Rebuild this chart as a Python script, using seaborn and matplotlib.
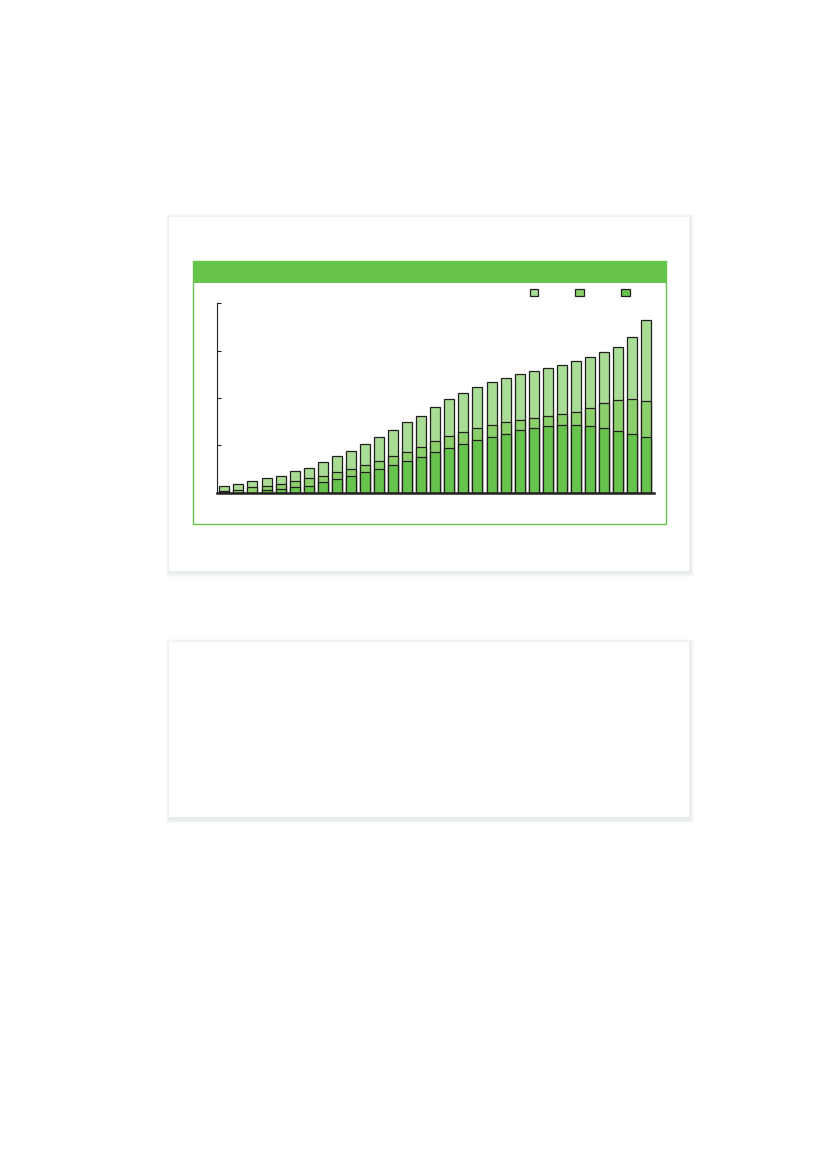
import numpy as np
import pandas as pd
import seaborn as sns
import matplotlib.pyplot as plt
from matplotlib.patches import Rectangle, Patch

# segment heights per bar (bottom -> top)
periods = [str(i) for i in range(1, 32)]
dark = [0.01, 0.00, 0.00, 0.05, 0.07, 0.11, 0.15, 0.22, 0.28, 0.35, 0.43, 0.49, 0.58, 0.66, 0.75, 0.85,
        0.94, 1.02, 1.11, 1.17, 1.23, 1.32, 1.36, 1.40, 1.42, 1.42, 1.40, 1.36, 1.30, 1.23, 1.17]
medium = [0.02, 0.06, 0.11, 0.10, 0.12, 0.13, 0.15, 0.13, 0.15, 0.14, 0.15, 0.17, 0.19, 0.21, 0.21, 0.24,
          0.25, 0.26, 0.25, 0.25, 0.26, 0.21, 0.21, 0.21, 0.24, 0.28, 0.38, 0.53, 0.65, 0.74, 0.76]
light = [0.12, 0.13, 0.13, 0.15, 0.17, 0.21, 0.23, 0.29, 0.34, 0.40, 0.44, 0.51, 0.55, 0.62, 0.67, 0.73,
         0.78, 0.82, 0.87, 0.91, 0.93, 0.97, 0.99, 1.02, 1.03, 1.08, 1.08, 1.08, 1.12, 1.31, 1.71]
y_ticks = [0, 1, 2, 3, 4]

c_light = '#a9dd96'
c_medium = '#8cd06b'
c_dark = '#66c34b'
c_edge = '#231f20'

df = pd.DataFrame({'period': periods, 'dark': dark, 'medium': medium, 'light': light})
df['mid_top'] = df['dark'] + df['medium']
df['total'] = df['mid_top'] + df['light']

sns.set_style("white")
W, H = 827, 1169
fig = plt.figure(figsize=(W / 100, H / 100), dpi=100)


def px_rect(x0, y0, x1, y1, **kw):
    return Rectangle((x0 / W, 1 - y1 / H), (x1 - x0) / W, (y1 - y0) / H,
                     transform=fig.transFigure, figure=fig, **kw)


# cards with soft shadow (a bit stronger to the bottom right)
for (x0, y0, x1, y1) in [(169, 217, 689, 571), (169, 642, 689, 817)]:
    for k in range(4, 0, -1):
        fig.patches.append(px_rect(x0 - k + 1, y0 - k + 1, x1 + k + 1, y1 + k + 1.5,
                                   facecolor='#8fa89b', edgecolor='none', alpha=0.05, zorder=0))
    fig.patches.append(px_rect(x0, y0, x1, y1, facecolor='white', edgecolor='none', zorder=1))

# green chart frame and header band
fig.patches.append(px_rect(193, 261, 665.5, 524.5, facecolor='none', edgecolor=c_dark, lw=1.0, zorder=2))
fig.patches.append(px_rect(193, 261, 665.5, 283, facecolor=c_dark, edgecolor='none', zorder=2))

ax = fig.add_axes([217.3 / W, 1 - 492.7 / H, (654 - 217.3) / W, (492.7 - 303.3) / H])
ax.set_facecolor('none')
ax.set_zorder(3)

kw = dict(x='period', order=periods, width=0.71, edgecolor=c_edge, linewidth=0.9,
          saturation=1, ax=ax)
sns.barplot(data=df, y='total', color=c_light, **kw)
sns.barplot(data=df, y='mid_top', color=c_medium, **kw)
sns.barplot(data=df, y='dark', color=c_dark, **kw)

ax.set_xlim(-0.5, 30.55)
ax.set_ylim(0, 4)
ax.set_yticks(y_ticks)
ax.set_yticklabels([])
ax.set_xticks([])
ax.set_xlabel('')
ax.set_ylabel('')
ax.tick_params(axis='y', direction='in', length=3, width=0.8, colors=c_edge, left=True)
for s in ['top', 'right']:
    ax.spines[s].set_visible(False)
ax.spines['left'].set_color(c_edge)
ax.spines['left'].set_linewidth(0.8)
ax.spines['bottom'].set_color(c_edge)
ax.spines['bottom'].set_linewidth(1.8)
ax.spines['bottom'].set_zorder(5)

handles = [Patch(facecolor=c, edgecolor=c_edge, linewidth=0.9) for c in [c_light, c_medium, c_dark]]
fig.legend(handles, ['', '', ''], ncol=3, loc='center', bbox_to_anchor=(579.5 / W, 1 - 293 / H),
           bbox_transform=fig.transFigure, frameon=False, fontsize=6, handlelength=1, handleheight=1,
           handletextpad=0, columnspacing=4.5, borderpad=0)

fig.savefig('out.png', dpi=100, facecolor='white')
